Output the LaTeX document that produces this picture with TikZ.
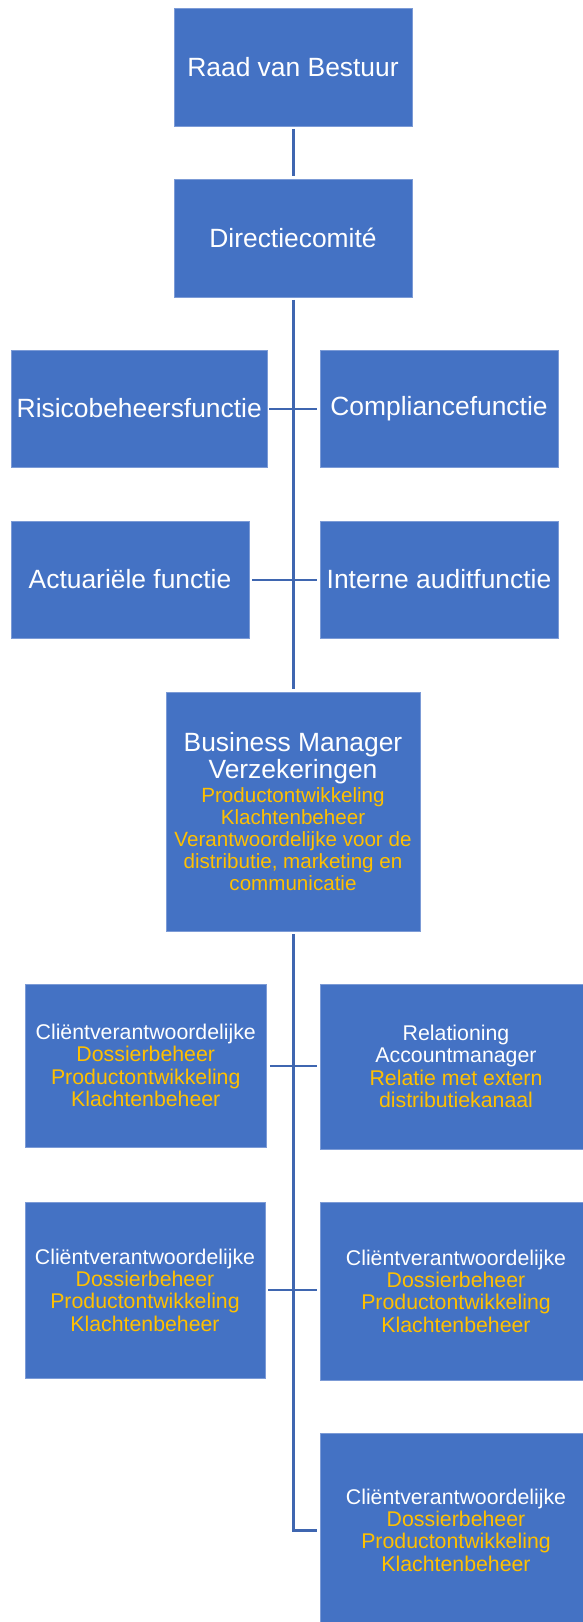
\documentclass[tikz,border=0pt]{standalone}
\usepackage{fontspec}
\setmainfont{Liberation Sans}
\definecolor{boxblue}{HTML}{4472C4}
\definecolor{boxedge}{HTML}{7C9BD6}
\definecolor{connblue}{HTML}{3F66B0}
\definecolor{yel}{HTML}{FFC000}
\newcommand{\bigf}{\fontsize{26.4}{27.7}\selectfont}
\newcommand{\smf}{\fontsize{21.3}{22.3}\selectfont}
\newcommand{\bmsm}{\fontsize{20.6}{22}\selectfont\color{yel}}
\newcommand{\yl}{\color{yel}}
\tikzset{
  orgbox/.style={rectangle, fill=boxblue, draw=boxedge, line width=0.8pt,
    inner sep=0pt, align=center, text=white},
  bigbox/.style={orgbox, font=\bigf},
  smallbox/.style={orgbox, font=\smf},
  vconn/.style={draw=connblue, line width=3pt},
  hconn/.style={draw=connblue, line width=2pt},
}
\begin{document}
\begin{tikzpicture}[x=1pt,y=-1pt]
\useasboundingbox (0,0) rectangle (583,1622);
\path[clip] (0,0) rectangle (583,1622);
\fill[white] (0,0) rectangle (583,1622);

\node[bigbox, minimum width=238pt, minimum height=118pt] (raad) at (293,67) {Raad van Bestuur};
\node[bigbox, minimum width=238pt, minimum height=118pt] (dir) at (293,238) {Directiecomité};
\node[bigbox, minimum width=256.5pt, minimum height=117pt] (risico) at (139.25,408.5) {Risicobeheersfunctie};
\node[bigbox, minimum width=238pt, minimum height=117pt] (compl) at (439,408.5) {Compliancefunctie};
\node[bigbox, minimum width=238pt, minimum height=117pt] (actu) at (130,579.5) {Actuariële functie};
\node[bigbox, minimum width=238pt, minimum height=117pt] (intern) at (439,579.5) {Interne auditfunctie};
\node[orgbox, font=\bigf, minimum width=254pt, minimum height=239pt] (bm) at (293,811.5)
  {Business Manager\\Verzekeringen\\[-4.3pt]\bmsm Productontwikkeling\\[-5.5pt]\bmsm Klachtenbeheer\\[-5.5pt]\bmsm Verantwoordelijke voor de\\[-5.5pt]\bmsm distributie, marketing en\\[-5.5pt]\bmsm communicatie};
\node[smallbox, minimum width=241.5pt, minimum height=163pt] (c1) at (145.75,1065.5)
  {Cliëntverantwoordelijke\\\yl Dossierbeheer\\\yl Productontwikkeling\\\yl Klachtenbeheer};
\node[smallbox, minimum width=272pt, minimum height=165pt] (rel) at (456,1066.5)
  {Relationing\\Accountmanager\\\yl Relatie met extern\\\yl distributiekanaal};
\node[smallbox, minimum width=240pt, minimum height=176pt] (c2) at (145,1290)
  {Cliëntverantwoordelijke\\\yl Dossierbeheer\\\yl Productontwikkeling\\\yl Klachtenbeheer};
\node[smallbox, minimum width=272pt, minimum height=178pt] (c3) at (456,1291)
  {Cliëntverantwoordelijke\\\yl Dossierbeheer\\\yl Productontwikkeling\\\yl Klachtenbeheer};
\node[smallbox, minimum width=272pt, minimum height=194pt] (c4) at (456,1530)
  {Cliëntverantwoordelijke\\\yl Dossierbeheer\\\yl Productontwikkeling\\\yl Klachtenbeheer};

\draw[vconn, shorten <=2.5pt, shorten >=2.5pt] (raad.south) -- (dir.north);
\draw[vconn, shorten <=2.5pt, shorten >=2.5pt] (dir.south) -- (bm.north);
\draw[hconn, shorten <=1.5pt, shorten >=3pt] (risico.east) -- (compl.west);
\draw[hconn, shorten <=3pt, shorten >=3pt] (actu.east) -- (intern.west);
\draw[vconn, shorten <=3pt, shorten >=3pt] (bm.south) |- (c4.west);
\draw[hconn, shorten <=3pt, shorten >=3pt] (c1.east) -- (c1.east -| rel.west);
\draw[hconn, shorten <=3pt, shorten >=3pt] (c2.east) -- (c2.east -| c3.west);
\end{tikzpicture}
\end{document}
